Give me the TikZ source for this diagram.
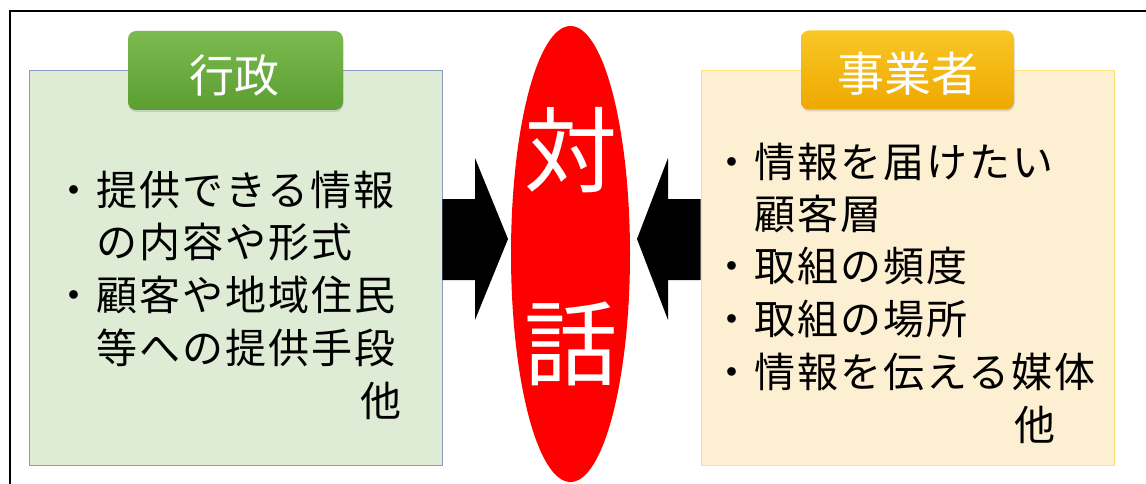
\documentclass[tikz,border=0pt]{standalone}
\usepackage{fontspec}
\newfontfamily\jp[LetterSpace=5]{Noto Sans CJK JP}
\newfontfamily\jpn{Noto Sans CJK JP}
\usetikzlibrary{shapes.geometric,shadows}
\definecolor{greenfill}{HTML}{DEEBD5}
\definecolor{greenedge}{HTML}{8A9CC4}
\definecolor{yellowfill}{HTML}{FDF0D2}
\definecolor{yellowedge}{HTML}{FFE27A}
\definecolor{greentop}{HTML}{7BBA4E}
\definecolor{greenbot}{HTML}{5C9E32}
\definecolor{orangetop}{HTML}{F8C727}
\definecolor{orangebot}{HTML}{EFA800}
\tikzset{
  bodytxt/.style={anchor=west, inner sep=0pt, text=black, font=\jp\fontsize{41}{41}\selectfont},
  labelbox/.style={rectangle, rounded corners=8pt, inner sep=0pt, minimum width=215pt, minimum height=79pt,
    drop shadow={shadow xshift=0.5pt, shadow yshift=-2pt, opacity=0.25}},
  labeltxt/.style={inner sep=0pt, text=white},
  panel/.style={rectangle, inner sep=0pt, line width=0.8pt, minimum width=413pt, minimum height=395pt},
  blockarrow/.style={fill=black}
}
\begin{document}
\begin{tikzpicture}[x=1pt,y=-1pt]
\useasboundingbox (0,0) rectangle (1146,484);
\fill[white] (0,0) rectangle (1146,484);
% outer frame
\draw[line width=2pt] (10,484) -- (10,11) -- (1146,11);

% panels
\node[panel, draw=greenedge, fill=greenfill] (lbox) at (235.5,267.5) {};
\node[panel, draw=yellowedge, fill=yellowfill] (rbox) at (907.5,267.5) {};

% labels
\node[labelbox, top color=greentop, bottom color=greenbot] (lg) at (235.5,70.5) {};
\node[labeltxt, font=\jpn\fontsize{45}{45}\selectfont] (lgt) at (234,75) {行政};
\node[labelbox, top color=orangetop, bottom color=orangebot, minimum width=213pt] (rg) at (907.5,70) {};
\node[labeltxt, font=\jpn\fontsize{47}{47}\selectfont] (rgt) at (907.5,74) {事業者};

% central ellipse
\node[ellipse, fill=red, inner sep=0pt, minimum width=119pt, minimum height=456pt] (dia) at (570.5,254) {};
\node[labeltxt, font=\jpn\fontsize{93}{93}\selectfont] (tai) at (570.5,150) {対};
\node[labeltxt, font=\jpn\fontsize{93}{93}\selectfont] (wa) at (571,344) {話};

% arrows
\fill[blockarrow] (lbox.east |- 0,199) -- (475,199) -- (475,158) -- (508,239) -- (475,320) -- (475,280) -- (lbox.east |- 0,280) -- cycle;
\fill[blockarrow] (rbox.west |- 0,199) -- (668,199) -- (668,158) -- (637,239) -- (668,320) -- (668,280) -- (rbox.west |- 0,280) -- cycle;

% left text
\node[bodytxt] (l1) at (53,190) {・提供できる情報};
\node[bodytxt] (l2) at (96,242) {の内容や形式};
\node[bodytxt] (l3) at (53,295) {・顧客や地域住民};
\node[bodytxt] (l4) at (96,348) {等への提供手段};
\node[bodytxt] (l5) at (360,401) {他};

% right text
\node[bodytxt] (r1) at (711,162) {・情報を届けたい};
\node[bodytxt] (r2) at (754,214) {顧客層};
\node[bodytxt] (r3) at (711,266) {・取組の頻度};
\node[bodytxt] (r4) at (711,319) {・取組の場所};
\node[bodytxt] (r5) at (711,372) {・情報を伝える媒体};
\node[bodytxt] (r6) at (1014,425) {他};
\end{tikzpicture}
\end{document}
